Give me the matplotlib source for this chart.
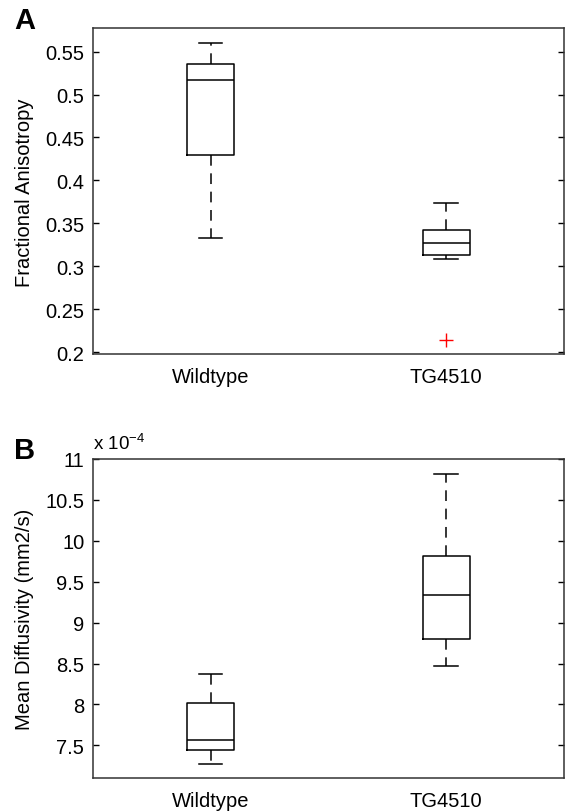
import matplotlib.pyplot as plt
import numpy as np

plt.rcParams['font.family'] = ['Liberation Sans', 'DejaVu Sans']
plt.rcParams['mathtext.fontset'] = 'custom'
plt.rcParams['mathtext.rm'] = 'Liberation Sans'
plt.rcParams['mathtext.it'] = 'Liberation Sans'

# grupos
grupos = ['Wildtype', 'TG4510']

# painel A - anisotropia fracionada
fa_whislo = [0.333, 0.308]
fa_q1 = [0.430, 0.313]
fa_med = [0.517, 0.327]
fa_q3 = [0.536, 0.342]
fa_whishi = [0.560, 0.374]
fa_outliers = [[], [0.214]]

# painel B - difusividade media (mm2/s)
md_whislo = [7.27e-4, 8.464e-4]
md_q1 = [7.447e-4, 8.795e-4]
md_med = [7.565e-4, 9.335e-4]
md_q3 = [8.015e-4, 9.82e-4]
md_whishi = [8.366e-4, 10.817e-4]
md_outliers = [[], []]
escala = 1e-4


def montar_stats(lo, q1, med, q3, hi, fl, fator=1.0):
    stats = []
    for i in range(len(grupos)):
        stats.append({
            'label': grupos[i],
            'whislo': lo[i] / fator,
            'q1': q1[i] / fator,
            'med': med[i] / fator,
            'q3': q3[i] / fator,
            'whishi': hi[i] / fator,
            'fliers': np.array(fl[i]) / fator,
        })
    return stats


def desenhar(ax, stats):
    ax.bxp(stats, positions=[1, 2], widths=0.2,
           boxprops=dict(color='black', linewidth=1.1),
           medianprops=dict(color='black', linewidth=1.1),
           whiskerprops=dict(color='black', linewidth=1.1, linestyle=(0, (7, 5))),
           capprops=dict(color='black', linewidth=1.1),
           flierprops=dict(marker='+', markeredgecolor='red', markersize=10,
                           markeredgewidth=1.0, linestyle='none'))
    ax.set_xlim(0.5, 2.5)
    ax.tick_params(axis='y', direction='in', left=True, right=True,
                   length=4, labelsize=14.5, width=1, pad=6)
    ax.tick_params(axis='x', length=0, labelsize=14.5, pad=9)
    for s in ax.spines.values():
        s.set_linewidth(1.1)
        s.set_color('#333333')


fig = plt.figure(figsize=(5.68, 8.12), dpi=100)

ax1 = fig.add_axes([0.1632, 0.5624, 0.8298, 0.4015])
desenhar(ax1, montar_stats(fa_whislo, fa_q1, fa_med, fa_q3, fa_whishi, fa_outliers))
ax1.set_ylim(0.1973, 0.5772)
ax1.set_yticks([0.2, 0.25, 0.3, 0.35, 0.4, 0.45, 0.5, 0.55])
ax1.set_yticklabels(['0.2', '0.25', '0.3', '0.35', '0.4', '0.45', '0.5', '0.55'])
ax1.set_ylabel('Fractional Anisotropy', fontsize=14.5)
ax1.yaxis.set_label_coords(-0.125, 0.5)

ax2 = fig.add_axes([0.1632, 0.0406, 0.8298, 0.3929])
desenhar(ax2, montar_stats(md_whislo, md_q1, md_med, md_q3, md_whishi, md_outliers, escala))
ax2.set_ylim(7.1, 11.0)
ax2.set_yticks([7.5, 8, 8.5, 9, 9.5, 10, 10.5, 11])
ax2.set_yticklabels(['7.5', '8', '8.5', '9', '9.5', '10', '10.5', '11'])
ax2.set_ylabel('Mean Diffusivity (mm2/s)', fontsize=14.5)
ax2.yaxis.set_label_coords(-0.125, 0.5)
ax2.text(0.0, 1.03, r'x $10^{-4}$', transform=ax2.transAxes, fontsize=13.5,
         ha='left', va='baseline')

# letras dos paineis
fig.text(0.025, 0.9645, 'A', fontsize=21, fontweight='bold', va='baseline')
fig.text(0.024, 0.4345, 'B', fontsize=21, fontweight='bold', va='baseline')

plt.savefig('out.png')
